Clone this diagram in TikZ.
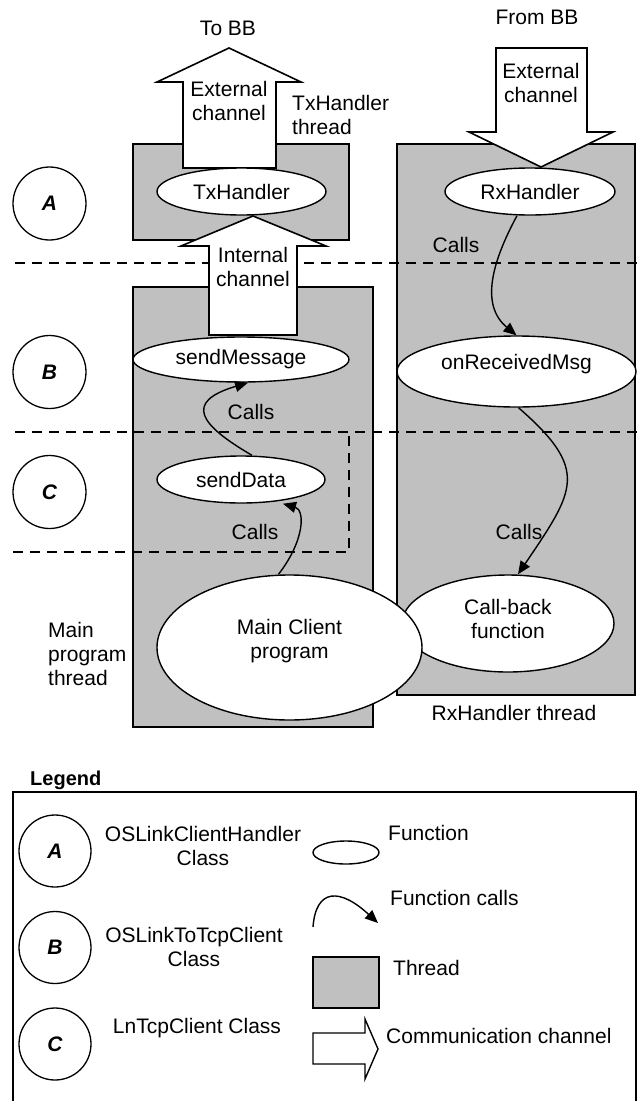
\documentclass[tikz,border=0pt]{standalone}
\usepackage{fontspec}
\setmainfont{Liberation Sans}
\usepackage{tikz}
\usetikzlibrary{shapes.geometric, arrows.meta, calc}
\definecolor{threadgray}{RGB}{192,192,192}

\tikzset{
  lbl/.style={font=\fontsize{21}{24}\selectfont, align=center, inner sep=0pt},
  func/.style={ellipse, draw, fill=white, line width=1.4pt, inner sep=0pt, font=\fontsize{21}{24}\selectfont, align=center},
  classmark/.style={circle, draw, line width=1.3pt, minimum size=73pt, inner sep=0pt, font=\fontsize{21}{24}\selectfont\bfseries\itshape},
  threadbox/.style={fill=threadgray, draw, line width=1.8pt},
  chan/.style={fill=white, draw, line width=1.6pt, line join=miter},
  layerline/.style={dash pattern=on 10pt off 7pt, line width=1.4pt},
  callarrow/.style={-{Triangle[length=13pt,width=11pt]}, line width=1.4pt},
}

\begin{document}
\begin{tikzpicture}[x=1pt, y=-1pt]
    \useasboundingbox (0,0) rectangle (637,1101);

    % Threads
    \draw[threadbox] (133,144) rectangle (349,240);
    \draw[threadbox] (133,287) rectangle (373,727);
    \draw[threadbox] (397,144) rectangle (635,695);

    % Class layers
    \draw[layerline] (15,263) -- (637,263);
    \draw[layerline] (15,432) -- (637,432);
    \draw[layerline] (13,552) -- (349,552) -- (349,432);

    % Channels
    \draw[chan] (183,168) -- (183,82) -- (157,82) -- (229,48) -- (301,82) -- (276,82) -- (276,168) -- cycle;
    \draw[chan] (209,335) -- (209,246) -- (181,246) -- (253,216) -- (326,246) -- (297,246) -- (297,335) -- cycle;
    \draw[chan] (496,48) -- (496,132) -- (469,132) -- (541,167) -- (613,132) -- (587,132) -- (587,48) -- cycle;
    \node[lbl] (extout) at (229,101) {External\\channel};
    \node[lbl] (extin) at (541,83) {External\\channel};
    \node[lbl] (intch) at (253,267) {Internal\\channel};
    \node[lbl] (tobb) at (228,28) {To BB};
    \node[lbl] (frombb) at (537,17) {From BB};

    % Functions
    \node[func, minimum width=169pt, minimum height=47pt] (txh) at (241.5,191.5) {TxHandler};
    \node[func, minimum width=170pt, minimum height=47pt] (rxh) at (530,191.5) {RxHandler};
    \node[func, minimum width=216pt, minimum height=45pt] (sendmsg) at (241,359.5) {sendMessage};
    \node[func, minimum width=239pt, minimum height=71pt, text depth=20pt] (onrecv) at (516.5,371.5) {onReceivedMsg};
    \node[func, minimum width=168pt, minimum height=47pt] (senddata) at (241,479.5) {sendData};
    \node[func, minimum width=212pt, minimum height=97pt, text depth=10pt] (callback) at (508,623.5) {Call-back\\function};
    \node[func, minimum width=265pt, minimum height=145pt, text depth=18pt] (mainclient) at (289.5,647.5) {Main Client\\program};

    % Calls
    \draw[callarrow] ($(rxh.south)+(-13,0)$) .. controls (492,262) and (480,305) .. (onrecv.north);
    \draw[callarrow] ($(onrecv.south)+(2,0)$) .. controls (590,470) and (575,490) .. ($(callback.north)+(10,0)$);
    \draw[callarrow] ($(senddata.north)+(11,0)$) .. controls (200,425) and (183,402) .. ($(sendmsg.south)+(7,0)$);
    \draw[callarrow] ($(mainclient.north)+(-11,0)$) .. controls (305,540) and (305,510) .. ($(senddata.south)+(42,0)$);
    \node[lbl] (callrx) at (456,245) {Calls};
    \node[lbl] (callmsg) at (251,412) {Calls};
    \node[lbl] (calldata) at (255,532) {Calls};
    \node[lbl] (callback-lbl) at (519,532) {Calls};

    % Thread names
    \node[lbl, anchor=west, align=left] (txthread) at (292,115) {TxHandler\\thread};
    \node[lbl, anchor=west, align=left] (mainthread) at (48,654) {Main\\program\\thread};
    \node[lbl] (rxthread) at (514,713) {RxHandler thread};

    % Class marks
    \node[classmark] (ca) at (49.5,203.5) {A};
    \node[classmark] (cb) at (49.5,372) {B};
    \node[classmark] (cc) at (49.5,492) {C};

    % Legend
    \node[lbl, anchor=west, font=\fontsize{20}{24}\selectfont\bfseries] (legend) at (30,780) {Legend};
    \draw[line width=1.4pt] (13,1101) |- (636,792) -- (636,1101);
    \node[classmark, minimum size=72pt] (la) at (55,851) {A};
    \node[classmark, minimum size=72pt] (lb) at (55,947.5) {B};
    \node[classmark, minimum size=72pt] (lc) at (55,1044) {C};
    \node[lbl] (lat) at (203,846) {OSLinkClientHandler\\Class};
    \node[lbl] (lbt) at (194,947) {OSLinkToTcpClient\\Class};
    \node[lbl] (lct) at (197,1028) {LnTcpClient Class};

    \draw[line width=1.4pt] (346,852.5) ellipse [x radius=33, y radius=11.5];
    \draw[callarrow] (313,927) .. controls (316,888) and (340,888) .. (378,923);
    \draw[threadbox, line width=1.6pt] (313,957) rectangle (379,1008);
    \draw[chan, line width=1.4pt] (313,1033) -- (365,1033) -- (365,1019) -- (378,1049) -- (365,1079) -- (365,1064) -- (313,1064) -- cycle;
    \node[lbl, anchor=west] (lfunc) at (388,833) {Function};
    \node[lbl, anchor=west] (lcalls) at (390,898) {Function calls};
    \node[lbl, anchor=west] (lthread) at (393,968) {Thread};
    \node[lbl, anchor=west] (lchan) at (386,1036) {Communication channel};
\end{tikzpicture}
\end{document}
